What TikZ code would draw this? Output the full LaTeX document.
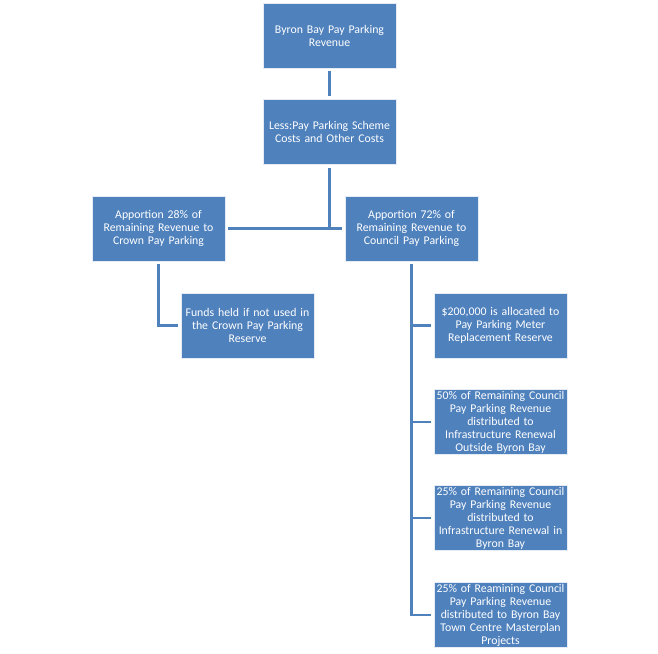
\documentclass[tikz,border=0pt]{standalone}
\usepackage{fontspec}
\setmainfont{Carlito}[WordSpace=0.75]
\definecolor{boxblue}{RGB}{79,129,189}
\begin{document}
\begin{tikzpicture}[x=1pt,y=1pt,
  box/.style={rectangle, fill=boxblue, draw=white!85!boxblue, line width=.8pt, text=white,
    minimum width=133pt, minimum height=65pt, text width=133pt, inner sep=0pt, align=center,
    font=\fontsize{11.8}{13}\selectfont},
  link/.style={draw=boxblue, line width=2.6pt}]
\useasboundingbox (0,0) rectangle (658,-653);
\node [box] (rev) at (329.5,-35.5) {Byron Bay Pay Parking\\Revenue};
\node [box] (less) at (329.5,-132) {Less:Pay Parking Scheme\\Costs and Other Costs};
\node [box] (crown) at (158.5,-228.5) {Apportion 28\% of\\Remaining Revenue to\\Crown Pay Parking};
\node [box] (council) at (411.5,-228.5) {Apportion 72\% of\\Remaining Revenue to\\Council Pay Parking};
\node [box] (funds) at (247.5,-325.5) {Funds held if not used in\\the Crown Pay Parking\\Reserve};
\node [box] (meter) at (500.5,-325.5) {\$200,000 is allocated to\\Pay Parking Meter\\Replacement Reserve};
\node [box] (outside) at (500.5,-422) {50\% of Remaining Council\\Pay Parking Revenue\\distributed to\\Infrastructure Renewal\\Outside Byron Bay};
\node [box] (inside) at (500.5,-518) {25\% of Remaining Council\\Pay Parking Revenue\\distributed to\\Infrastructure Renewal in\\Byron Bay};
\node [box] (town) at (500.5,-615) {25\% of Reamining Council\\Pay Parking Revenue\\distributed to Byron Bay\\Town Centre Masterplan\\Projects};
\draw [link, shorten <=3pt, shorten >=3pt] (rev) -- (less);
\draw [link, shorten <=3pt, shorten >=3pt] (crown) -- (council);
\draw [link, shorten <=3pt] (less.south) -- (less.south |- crown.east);
\draw [link, shorten <=3pt, shorten >=3pt] (crown.south) |- (funds.west);
\foreach \n in {meter,outside,inside,town}
  \draw [link, shorten <=3pt, shorten >=3pt] (council.south) |- (\n.west);
\end{tikzpicture}
\end{document}
